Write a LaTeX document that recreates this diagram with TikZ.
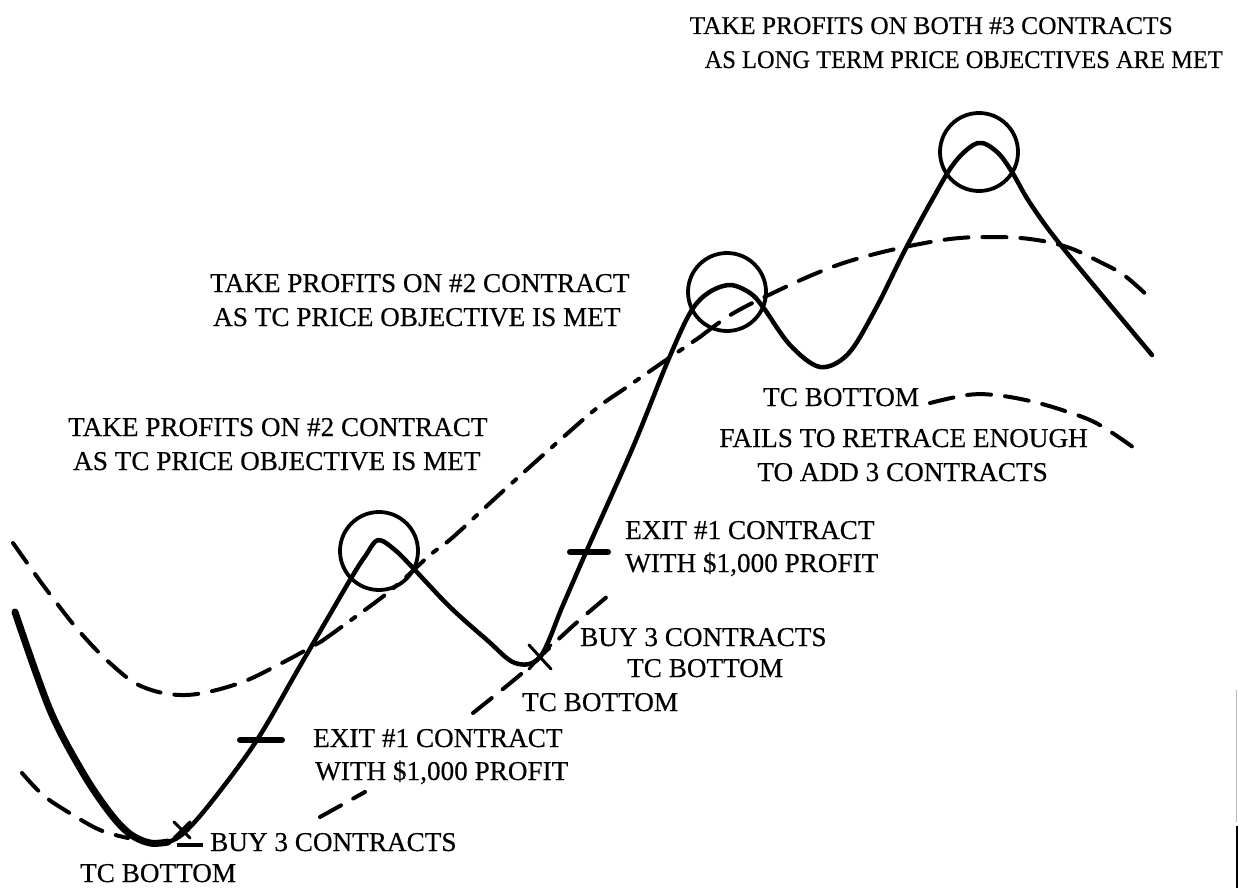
\documentclass[tikz,border=0pt]{standalone}
\usepackage{fontspec}
\setmainfont[FakeBold=0.4]{Liberation Serif}
\begin{document}
\begin{tikzpicture}[x=1pt,y=-1pt,
  price/.style={line width=4.5pt, line cap=round, line join=round},
  pricethick/.style={line width=7pt, line cap=round, line join=round},
  guide/.style={line width=4pt, dash pattern=on 24pt off 14pt, line cap=round},
  guidedot/.style={line width=4pt, dash pattern=on 24pt off 12pt on 5pt off 12pt, line cap=round},
  target/.style={circle, draw, line width=3.8pt, minimum size=78pt, inner sep=0pt},
  lbl/.style={font=\fontsize{27.2}{30}\selectfont, inner sep=0pt, anchor=base west},
  lble/.style={font=\fontsize{27.2}{30}\selectfont, inner sep=0pt, anchor=base east},
  toplbl/.style={font=\fontsize{25.5}{30}\selectfont, inner sep=0pt, anchor=base east},
  exittick/.style={line width=6pt, line cap=round},
  buymark/.style={line width=3pt, line cap=round}
]
\useasboundingbox (0,0) rectangle (1238,888);
\fill[white] (0,0) rectangle (1238,888);

% upper long guide curve
\draw[guide] plot[smooth, tension=0.6] coordinates {(13,543) (30,567) (49,593) (79,631) (111,664) (143,687) (186,695) (237,684) (280,664) (322,641)};
\draw[guidedot] plot[smooth, tension=0.6] coordinates {(322,641) (358,615) (385,595) (405,578) (430,555) (452,538) (490,503) (523,473) (560,440) (597,408) (627,387) (669,358) (700,337)};
\draw[guide] plot[smooth, tension=0.6] coordinates {(700,337) (732,314) (775,292) (817,273) (853,260) (900,248) (950,239) (990,237) (1030,239) (1067,247) (1100,262) (1125,276) (1152,300)};

% lower guide curve
\draw[guide] plot[smooth, tension=0.6] coordinates {(22,773) (43,795) (68,812) (100,830) (128,838)};
\draw[guide] (320,817) -- (365,792);
\draw[guide] plot[smooth, tension=0.6] coordinates {(473,713) (520,675) (545,652) (575,624) (615,590)};

% third guide curve
\draw[guide] plot[smooth, tension=0.6] coordinates {(930,403) (967,395) (995,395) (1030,401) (1065,411) (1098,424) (1137,450)};

% price line
\draw[price] plot[smooth, tension=0.55] coordinates {(15,612) (50,710) (83,773) (110,813) (130,834) (150,843) (168,842) (185,832) (213,800) (257,740) (300,666) (350,580) (366,555) (378,540) (395,550) (413,568) (450,607) (487,640) (515,663) (540,657) (563,605) (587,550) (633,447) (667,363) (690,313) (708,293) (730,285) (750,293) (763,307) (790,345) (820,367) (848,354) (875,310) (905,250) (932,200) (955,162) (978,143) (997,152) (1012,172) (1030,203) (1063,248) (1152,355)};
\draw[pricethick] plot[smooth, tension=0.55] coordinates {(15,612) (50,710) (83,773) (110,813) (130,834) (150,843) (168,842)};

% target circles
\node[target] (c1) at (379,551) {};
\node[target] (c2) at (727,292) {};
\node[target] (c3) at (979,152) {};

% exit ticks
\draw[exittick] (240,740) -- (282,740);
\draw[exittick] (570,552) -- (608,552);

% buy marks
\draw[buymark] (174,822) -- (190,838) (190,822) -- (174,838);
\draw[line width=3.5pt] (177,845) -- (203,845);
\draw[buymark] (529,645) -- (551,669) (551,645) -- (529,669);

% scan edge line
\draw[gray!55, line width=1.5pt] (1236.5,690) -- (1236.5,822);
\draw[black, line width=2pt] (1236.5,826) -- (1236.5,888);

% labels
\node[toplbl] (t1) at (1173,34) {TAKE PROFITS ON BOTH \#3 CONTRACTS};
\node[toplbl] (t2) at (1223,68) {\scalebox{0.96}[1]{AS LONG TERM PRICE OBJECTIVES ARE MET}};
\node[lbl] (t3) at (210,292) {TAKE PROFITS ON \#2 CONTRACT};
\node[lbl] (t4) at (213,326) {AS TC PRICE OBJECTIVE IS MET};
\node[lbl] (t5) at (68,436) {TAKE PROFITS ON \#2 CONTRACT};
\node[lbl] (t6) at (73,470) {AS TC PRICE OBJECTIVE IS MET};
\node[lbl] (t7) at (763,406) {TC BOTTOM};
\node[lble] (t8) at (1088,447) {FAILS TO RETRACE ENOUGH};
\node[lble] (t9) at (1048,481) {TO ADD 3 CONTRACTS};
\node[lbl] (t10) at (625,539) {EXIT \#1 CONTRACT};
\node[lbl] (t11) at (625,572) {WITH \$1,000 PROFIT};
\node[lbl] (t12) at (580,646) {BUY 3 CONTRACTS};
\node[lbl] (t13) at (627,677) {TC BOTTOM};
\node[lbl] (t14) at (522,711) {TC BOTTOM};
\node[lbl] (t15) at (313,747) {EXIT \#1 CONTRACT};
\node[lbl] (t16) at (315,780) {WITH \$1,000 PROFIT};
\node[lbl] (t17) at (210,851) {BUY 3 CONTRACTS};
\node[lbl] (t18) at (80,882) {TC BOTTOM};
\end{tikzpicture}
\end{document}
